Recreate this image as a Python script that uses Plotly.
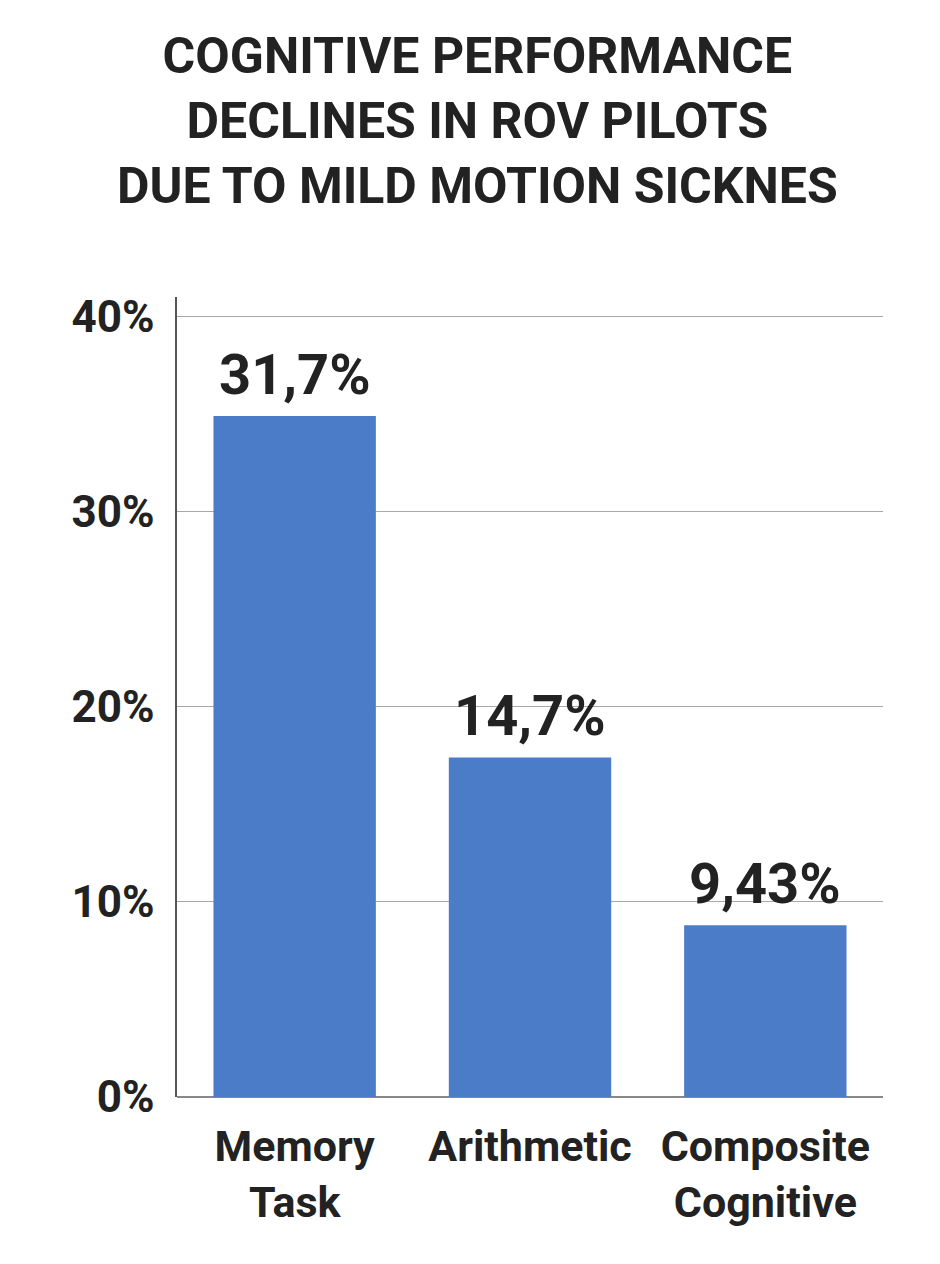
import plotly.graph_objects as go

# data
categories = ["Memory<br>Task", "Arithmetic", "Composite<br>Cognitive"]
bar_heights = [34.9, 17.4, 8.8]          # drawn heights (%)
bar_labels = ["31,7%", "14,7%", "9,43%"]  # printed labels
tick_vals = [0, 10, 20, 30, 40]
tick_text = ["0%", "10%", "20%", "30%", "40%"]

title_text = ("COGNITIVE PERFORMANCE<br>DECLINES IN ROV PILOTS"
              "<br>DUE TO MILD MOTION SICKNES")

bar_color = "#4b7cc8"
ink = "#222222"
font = "Roboto"

fig = go.Figure()
fig.add_trace(
    go.Bar(
        x=categories,
        y=bar_heights,
        marker=dict(color=bar_color, line=dict(width=0)),
        hoverinfo="skip",
    )
)

# value labels above each bar
for cat, h, lab in zip(categories, bar_heights, bar_labels):
    fig.add_annotation(
        x=cat, y=h, text=f"<b>{lab}</b>", showarrow=False,
        yanchor="bottom", yshift=6,
        font=dict(family=font, size=56, color=ink),
    )

# title as an annotation so the three lines sit where they should
fig.add_annotation(
    text=f"<b>{title_text}</b>",
    xref="paper", yref="paper", x=0.425, y=1.34,
    xanchor="center", yanchor="top", showarrow=False,
    font=dict(family=font, size=50, color=ink),
)

fig.update_layout(
    width=940,
    height=1264,
    paper_bgcolor="white",
    plot_bgcolor="white",
    showlegend=False,
    bargap=0.31,
    margin=dict(l=169, r=65, t=289, b=175),
)
fig.update_xaxes(
    showline=False,
    showgrid=False,
    ticks="",
    ticktext=[f"<b>{c}</b>" for c in categories],
    tickvals=categories,
    ticklabelstandoff=20,
    tickfont=dict(family=font, size=43, color=ink),
)
fig.update_yaxes(
    range=[0, 41],
    tickvals=tick_vals,
    ticktext=[f"<b>{t}</b>" for t in tick_text],
    tickfont=dict(family=font, size=44, color=ink),
    ticklabelstandoff=12,
    showgrid=True,
    gridcolor="#a8a8a8",
    gridwidth=1,
    zeroline=True,
    zerolinecolor="#888888",
    zerolinewidth=1.5,
    showline=True,
    linecolor="#555555",
    linewidth=1.5,
)

fig.write_html("out.html")
